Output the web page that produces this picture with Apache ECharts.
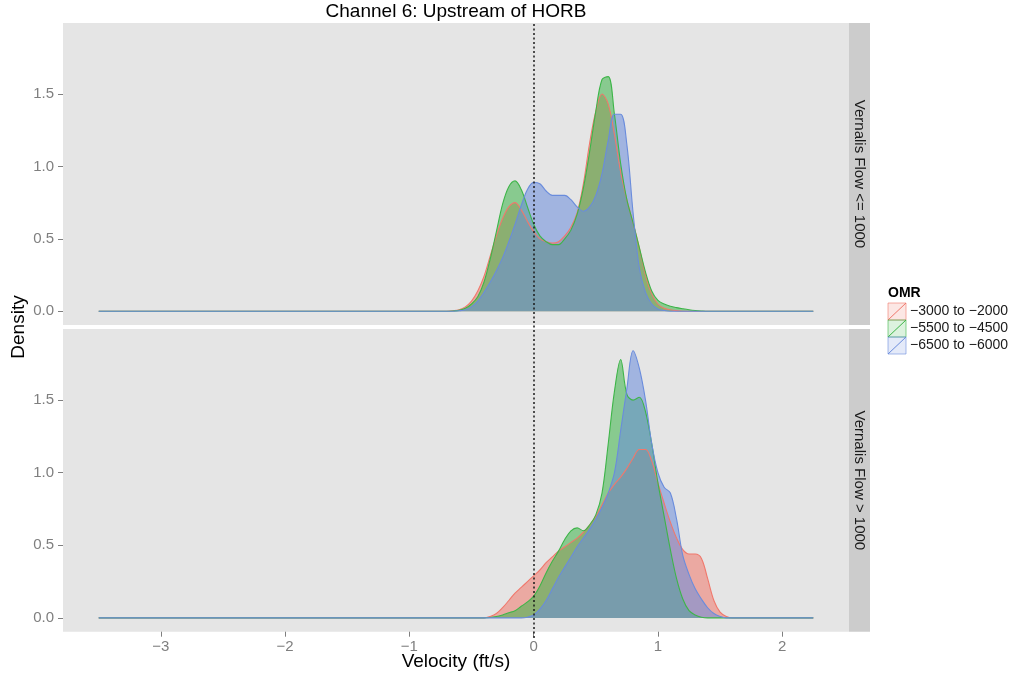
<!DOCTYPE html>
<html>
<head>
<meta charset="utf-8">
<title>Channel 6: Upstream of HORB</title>
<script src="https://cdn.jsdelivr.net/npm/echarts@6.0.0/dist/echarts.min.js"></script>
<style>
  html, body { margin: 0; padding: 0; background: #fff; }
  #main { width: 1014px; height: 673px; }
</style>
</head>
<body>
<div id="main"></div>
<script>
// velocity grid (ft/s), shared by every density curve
var velocity = [-3.5,
  -0.7, -0.65, -0.6, -0.55, -0.5, -0.45, -0.4, -0.35, -0.3, -0.25,
  -0.2, -0.15, -0.1, -0.05, 0, 0.05, 0.1, 0.15, 0.2, 0.25,
  0.3, 0.35, 0.4, 0.45, 0.5, 0.55, 0.6, 0.65, 0.7, 0.75,
  0.8, 0.85, 0.9, 0.95, 1, 1.05, 1.1, 1.15, 1.2, 1.25,
  1.3, 1.35, 1.4, 1.45, 1.5, 1.55, 1.6,
  2.25];

var omrGroups = ['\u22123000 to \u22122000', '\u22125500 to \u22124500', '\u22126500 to \u22126000'];
var facetNames = ['Vernalis Flow <= 1000', 'Vernalis Flow > 1000'];

// Vernalis Flow <= 1000
var lowRed = [0,
  0, 0.003, 0.01, 0.03, 0.07, 0.14, 0.24, 0.38, 0.52, 0.64,
  0.72, 0.75, 0.7, 0.62, 0.55, 0.5, 0.48, 0.47, 0.48, 0.52,
  0.58, 0.68, 0.88, 1.16, 1.38, 1.5, 1.43, 1.22, 0.96, 0.77,
  0.61, 0.44, 0.25, 0.12, 0.05, 0.02, 0.01, 0.004, 0, 0,
  0, 0, 0, 0, 0, 0, 0,
  0];
var lowGreen = [0,
  0, 0.002, 0.006, 0.02, 0.05, 0.1, 0.2, 0.36, 0.55, 0.74,
  0.86, 0.9, 0.84, 0.72, 0.6, 0.52, 0.48, 0.46, 0.46, 0.5,
  0.56, 0.67, 0.85, 1.1, 1.38, 1.6, 1.62, 1.36, 1.02, 0.77,
  0.61, 0.44, 0.27, 0.14, 0.075, 0.05, 0.035, 0.025, 0.017, 0.01,
  0.005, 0.002, 0, 0, 0, 0, 0,
  0];
var lowBlue = [0,
  0, 0, 0.003, 0.01, 0.03, 0.07, 0.13, 0.2, 0.28, 0.37,
  0.48, 0.6, 0.73, 0.84, 0.89, 0.88, 0.83, 0.8, 0.8, 0.8,
  0.77, 0.72, 0.69, 0.72, 0.8, 0.95, 1.18, 1.36, 1.36, 1.15,
  0.68, 0.3, 0.13, 0.05, 0.015, 0.005, 0, 0, 0, 0,
  0, 0, 0, 0, 0, 0, 0,
  0];

// Vernalis Flow > 1000
var highRed = [0,
  0, 0, 0, 0, 0, 0, 0, 0.01, 0.03, 0.07,
  0.12, 0.17, 0.21, 0.25, 0.29, 0.33, 0.38, 0.42, 0.46, 0.49,
  0.52, 0.55, 0.59, 0.64, 0.7, 0.78, 0.86, 0.92, 0.97, 1.03,
  1.1, 1.16, 1.16, 1.08, 0.93, 0.79, 0.66, 0.55, 0.47, 0.44,
  0.44, 0.41, 0.27, 0.12, 0.04, 0.01, 0,
  0];
var highGreen = [0,
  0, 0, 0, 0, 0, 0, 0, 0.003, 0.01, 0.02,
  0.035, 0.05, 0.08, 0.11, 0.15, 0.22, 0.31, 0.39, 0.46, 0.54,
  0.6, 0.62, 0.6, 0.64, 0.71, 0.86, 1.2, 1.56, 1.78, 1.54,
  1.5, 1.52, 1.42, 1.2, 0.93, 0.7, 0.47, 0.27, 0.13, 0.05,
  0.02, 0.005, 0, 0, 0, 0, 0,
  0];
var highBlue = [0,
  0, 0, 0, 0, 0, 0, 0, 0, 0, 0,
  0, 0, 0, 0.005, 0.02, 0.06, 0.12, 0.2, 0.28, 0.35,
  0.42, 0.49, 0.55, 0.61, 0.68, 0.76, 0.86, 1.0, 1.29, 1.58,
  1.84, 1.72, 1.5, 1.2, 1.0, 0.9, 0.86, 0.68, 0.43, 0.3,
  0.2, 0.13, 0.07, 0.03, 0.01, 0, 0,
  0];

var xTicks = [-3, -2, -1, 0, 1, 2];
var yTicks = [0, 0.5, 1, 1.5];

var colors = ['#F0786C', '#3DB548', '#6A8CDC'];
var FONT = '"Liberation Sans", Arial, sans-serif';

function pairs(ys) {
  return velocity.map(function (v, i) { return [v, ys[i]]; });
}

function densitySeries(name, ys, color, panel) {
  return {
    name: name,
    type: 'line',
    xAxisIndex: panel,
    yAxisIndex: panel,
    data: pairs(ys),
    smooth: 0.35,
    symbol: 'none',
    silent: true,
    lineStyle: { color: color, width: 1.1, opacity: 1 },
    areaStyle: { color: color, opacity: 0.55 }
  };
}

var myChart = echarts.init(document.getElementById('main'));

var gridL = 63, gridW = 786;
var panels = [{ top: 23, height: 302 }, { top: 329, height: 302.7 }];

function xAxisFor(idx, showLabels) {
  return {
    type: 'value', gridIndex: idx, min: -3.7875, max: 2.5375,
    axisLine: { show: false, onZero: false },
    splitLine: { show: false },
    axisTick: { show: showLabels, length: 5, lineStyle: { color: '#7F7F7F' }, customValues: xTicks },
    axisLabel: {
      show: showLabels, margin: 8, color: '#7F7F7F', fontSize: 15, fontFamily: FONT,
      customValues: xTicks,
      formatter: function (v) { return v < 0 ? '\u2212' + Math.abs(v) : String(v); }
    }
  };
}
function yAxisFor(idx) {
  return {
    type: 'value', gridIndex: idx, min: -0.095, max: 1.99,
    axisLine: { show: false, onZero: false },
    splitLine: { show: false },
    axisTick: { show: true, length: 5, lineStyle: { color: '#7F7F7F' }, customValues: yTicks },
    axisLabel: {
      margin: 9, color: '#7F7F7F', fontSize: 15, fontFamily: FONT,
      customValues: yTicks,
      formatter: function (v) { return v.toFixed(1); }
    }
  };
}

// texts, strips and the legend are drawn as graphic elements
var graphics = [
  { type: 'text', x: 456, y: 12, style: { text: 'Channel 6: Upstream of HORB', fontSize: 19, fontFamily: FONT, fill: '#000', align: 'center', verticalAlign: 'middle' } },
  { type: 'text', x: 456, y: 662, style: { text: 'Velocity (ft/s)', fontSize: 19, fontFamily: FONT, fill: '#000', align: 'center', verticalAlign: 'middle' } },
  { type: 'text', x: 18.5, y: 327, rotation: Math.PI / 2, style: { text: 'Density', fontSize: 19, fontFamily: FONT, fill: '#000', align: 'center', verticalAlign: 'middle' } },
  { type: 'text', x: 888, y: 293.5, style: { text: 'OMR', fontSize: 14, fontWeight: 'bold', fontFamily: FONT, fill: '#000', align: 'left', verticalAlign: 'middle' } }
];
panels.forEach(function (p, i) {
  graphics.push({ type: 'rect', shape: { x: gridL + gridW, y: p.top, width: 21, height: p.height }, style: { fill: '#CCCCCC' } });
  graphics.push({ type: 'text', x: gridL + gridW + 10.5, y: p.top + p.height / 2, rotation: -Math.PI / 2,
    style: { text: facetNames[i], fontSize: 15, fontFamily: FONT, fill: '#1A1A1A', align: 'center', verticalAlign: 'middle' } });
});
omrGroups.forEach(function (g, i) {
  var ky = 303 + i * 17;
  graphics.push({ type: 'rect', shape: { x: 888, y: ky, width: 18, height: 17 },
    style: { fill: echarts.color.modifyAlpha(colors[i], 0.18), stroke: echarts.color.modifyAlpha(colors[i], 0.6), lineWidth: 1 } });
  graphics.push({ type: 'line', shape: { x1: 888, y1: ky + 17, x2: 906, y2: ky },
    style: { stroke: colors[i], lineWidth: 1 } });
  graphics.push({ type: 'text', x: 910, y: ky + 8.5,
    style: { text: g, fontSize: 14, fontFamily: FONT, fill: '#1A1A1A', align: 'left', verticalAlign: 'middle' } });
});

var option = {
  animation: false,
  backgroundColor: '#FFFFFF',
  grid: [
    { left: gridL, top: panels[0].top, width: gridW, height: panels[0].height, show: true, backgroundColor: '#E5E5E5', borderWidth: 0 },
    { left: gridL, top: panels[1].top, width: gridW, height: panels[1].height, show: true, backgroundColor: '#E5E5E5', borderWidth: 0 },
    { left: gridL, top: 23, width: gridW, height: 615, show: false }
  ],
  xAxis: [
    xAxisFor(0, false),
    xAxisFor(1, true),
    { type: 'value', gridIndex: 2, min: -3.7875, max: 2.5375, show: false }
  ],
  yAxis: [
    yAxisFor(0),
    yAxisFor(1),
    { type: 'value', gridIndex: 2, min: 0, max: 1, show: false }
  ],
  series: [
    densitySeries(omrGroups[0], lowRed, colors[0], 0),
    densitySeries(omrGroups[1], lowGreen, colors[1], 0),
    densitySeries(omrGroups[2], lowBlue, colors[2], 0),
    densitySeries(omrGroups[0], highRed, colors[0], 1),
    densitySeries(omrGroups[1], highGreen, colors[1], 1),
    densitySeries(omrGroups[2], highBlue, colors[2], 1),
    {
      // dotted reference line at zero velocity
      type: 'line', xAxisIndex: 2, yAxisIndex: 2, data: [], symbol: 'none', silent: true,
      markLine: {
        silent: true, symbol: ['none', 'none'], label: { show: false },
        lineStyle: { color: '#1A1A1A', type: [2, 2.5], width: 1.5 },
        data: [{ xAxis: 0 }]
      }
    }
  ],
  graphic: graphics
};

myChart.setOption(option);
</script>
</body>
</html>
